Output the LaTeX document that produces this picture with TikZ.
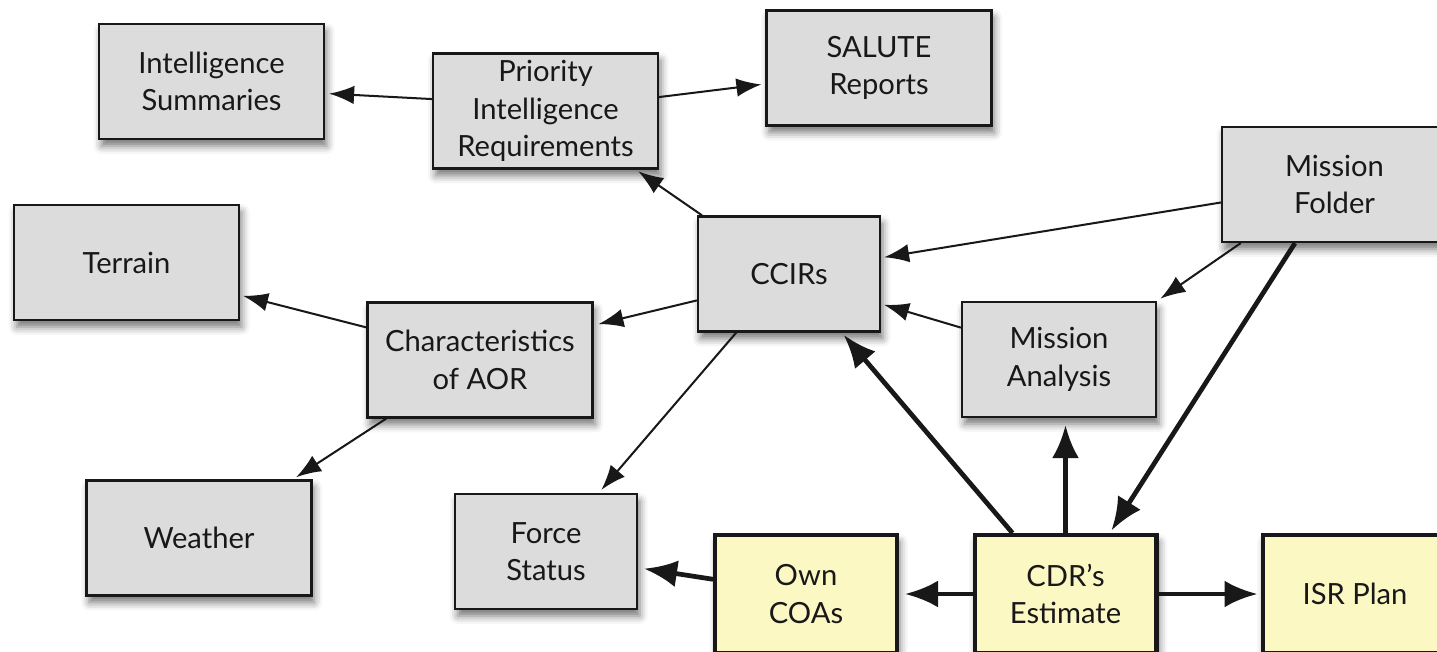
\documentclass[tikz,border=0pt]{standalone}
\usepackage{fontspec}
\setmainfont{Lato}
\usepackage{tikz}
\usetikzlibrary{arrows.meta,shadows.blur}
\definecolor{boxgray}{RGB}{220,220,220}
\definecolor{boxyellow}{RGB}{252,248,196}
\definecolor{edgeblack}{RGB}{24,24,24}

\begin{document}
\begin{tikzpicture}[
  x=0.02cm, y=-0.02cm,
  font=\fontsize{16.6}{21.3}\selectfont,
  box/.style={draw=edgeblack, line width=1.3pt, fill=boxgray, align=center,
    minimum width=4.5cm, minimum height=2.3cm, inner sep=0pt, text=edgeblack,
    blur shadow={shadow xshift=1.5pt, shadow yshift=-4pt, shadow blur radius=4.5pt, shadow opacity=55}},
  narrow/.style={box, minimum width=3.64cm},
  estimate/.style={narrow, fill=boxyellow, line width=2.3pt, minimum height=2.36cm},
  link/.style={-{Latex[length=0.5cm, width=0.37cm]}, line width=1.15pt, draw=edgeblack},
  mainlink/.style={-{Latex[length=0.66cm, width=0.54cm]}, line width=2.7pt, draw=edgeblack}
]
\useasboundingbox (0,0) rectangle (1437,652);

\node[box] (summ) at (211.5,81.5) {Intelligence\\Summaries};
\node[box] (pir) at (545.5,111) {Priority\\Intelligence\\Requirements};
\node[box] (salute) at (879,68) {SALUTE\\Reports};
\node[box] (terrain) at (126.5,262.5) {Terrain};
\node[narrow] (ccir) at (789,274) {CCIRs};
\node[box] (mfolder) at (1334.5,184.5) {Mission\\Folder};
\node[box] (aor) at (480,360) {Characteristics\\of AOR};
\node[narrow, minimum width=3.88cm] (manalysis) at (1059,359.5) {Mission\\Analysis};
\node[box] (weather) at (199,538) {Weather};
\node[narrow] (force) at (546,551.5) {Force\\Status};
\node[estimate] (coa) at (806,594) {Own\\COAs};
\node[estimate] (cdr) at (1065.5,594) {CDR's\\Estimate};
\node[estimate, minimum width=3.7cm] (isr) at (1355,594) {ISR Plan};

\draw[link, shorten >=0.08cm] (pir.174) -- (summ.354);
\draw[link, shorten >=0.08cm] (pir.7) -- (salute.188);
\draw[link, shorten >=0.06cm] (ccir.146) -- (pir.327);
\draw[link, shorten >=0.06cm] (mfolder.189) -- (ccir.10);
\draw[link, shorten >=0.08cm] (mfolder.212) -- (manalysis.north east);
\draw[link, shorten >=0.06cm] (manalysis.162) -- (ccir.342);
\draw[link, shorten >=0.1cm] (ccir.196) -- (aor.17);
\draw[link, shorten >=0.08cm] (ccir.228) -- (force.48);
\draw[link, shorten >=0.06cm] (aor.164) -- (terrain.344);
\draw[link, shorten >=0.08cm] (aor.212) -- (weather.32);
\draw[mainlink, shorten >=0.06cm] (mfolder.236) -- (cdr.54);
\draw[mainlink, shorten >=0.06cm] (cdr.131) -- (ccir.312);
\draw[mainlink, shorten >=0.14cm] (cdr.north) -- (cdr.north |- manalysis.south);
\draw[mainlink, shorten >=0.12cm] (coa.171) -- (force.350);
\draw[mainlink, shorten >=0.12cm] (cdr.west) -- (coa.east);
\draw[mainlink, shorten >=0.06cm] (cdr.east) -- (isr.west);
\end{tikzpicture}
\end{document}
